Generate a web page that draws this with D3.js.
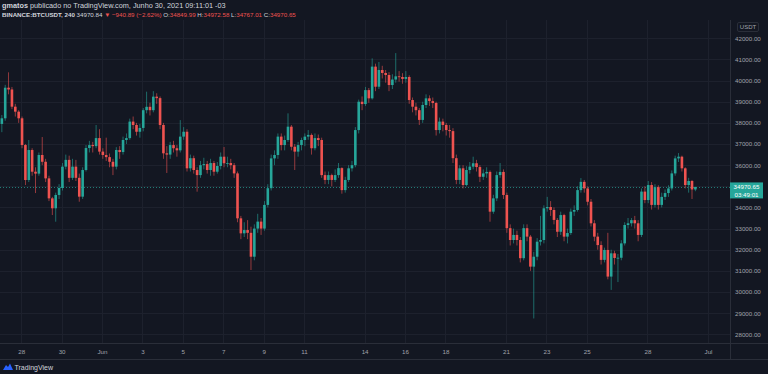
<!DOCTYPE html>
<html>
<head>
<meta charset="utf-8">
<script src="https://cdn.jsdelivr.net/npm/d3@7"></script>
<style>
  html, body { margin: 0; padding: 0; background: #131722; }
  svg { display: block; font-family: "Liberation Sans", Arial, sans-serif; }
</style>
</head>
<body>
<svg id="chart" width="768" height="374"></svg>
<script>
// BINANCE:BTCUSDT 4h candles, local time (-03), first bar May 27 01:00
var firstTime = Date.UTC(2021, 4, 27, 1);
var firstOpen = 37950;

var closes = [
  38216,39663,39580,38765,38530,38216,36952,35297,36716,35690,
  35600,36480,36160,35375,34430,33960,34590,34920,35930,36250,
  35400,35930,35400,34510,35770,36810,36950,36900,37280,36640,
  36480,36380,36160,35930,36716,36620,37190,37280,38060,37900,
  37580,37760,38600,38760,38600,39240,39170,37900,36560,36500,
  36950,36800,36700,37350,37580,35850,36330,35770,35530,36000,
  36050,35770,36100,35690,35960,36400,36090,36100,36000,35610,
  33485,32775,32930,32800,31670,33000,33330,33000,34120,34910,
  36320,36480,37350,36950,37190,37820,36870,36640,36950,37190,
  37350,37430,36800,37280,37190,35530,35300,35530,35300,35530,
  35860,34820,35300,35850,36000,37660,39000,38890,39550,39160,
  40660,39710,40500,40360,40265,39790,40050,40200,40170,40080,
  40170,39080,38765,38600,38140,38845,39160,39030,38940,37660,
  38060,37900,37660,37610,36330,35300,35850,35060,35770,35930,
  36090,35910,35450,35610,35680,33800,34430,35530,35680,34590,
  33020,32460,32700,32460,31600,33020,32620,31200,31670,32380,
  32460,33960,34020,33880,33410,32850,33640,32620,32790,33800,
  33880,34820,35210,34900,34270,33250,32620,32220,31520,31990,
  30730,31830,31610,31620,32300,33170,33250,33400,33250,32700,
  34750,34350,35060,34120,34960,34120,34500,34680,34900,35610,
  36320,36400,35850,35060,35250,34849.99,34970.65
];

var highs = [
  38370,39800,40390,39700,38900,38600,38300,37000,37190,36800,
  35900,36600,37330,36300,35500,34500,34700,35100,36100,36500,
  36450,36300,36250,35600,35900,36950,37150,37100,37900,37700,
  36800,37300,36550,36300,36850,36900,37350,37500,38200,38300,
  38000,37950,38700,39475,38950,39500,39400,39250,38000,36900,
  37100,37150,36950,38130,37800,37700,36500,36450,35900,36200,
  36350,36200,36300,36200,36150,36600,36860,36400,36300,36100,
  35700,33600,33300,33400,33090,33200,33700,33500,34300,35100,
  36500,36700,37500,37500,37400,38450,37900,37000,37100,37300,
  37500,37660,37500,37500,37450,37300,35700,35700,35600,35800,
  36100,35900,35450,36000,36200,37800,39100,39250,39700,39650,
  41050,40800,40880,40700,40500,40400,40300,41300,40450,40350,
  40450,40250,39200,38950,38700,39000,39350,39300,39200,39000,
  38250,38200,38000,37900,37750,36500,36000,36000,35950,36150,
  36400,36250,36000,35800,35900,35750,34600,35700,36100,35800,
  34700,33200,33000,32900,32600,33200,33200,32700,31900,32550,
  33600,34100,34500,34300,34000,33500,33800,33700,33000,33950,
  34100,35000,35390,35300,35000,34400,33400,32800,32400,32100,
  32800,32000,31950,31800,32450,33300,33500,33500,33600,33400,
  34900,35000,35250,35200,35100,35050,34700,34850,35050,35750,
  36450,36570,36450,35900,35400,35300,34972.58
];

var lows = [
  37560,38100,39350,38650,38300,38000,36800,35060,35200,35500,
  34680,35500,36000,35200,34300,33640,33325,34400,34800,35800,
  35200,35300,35250,34270,34400,35700,36600,36600,36800,36500,
  36300,36200,35900,35530,35800,36300,36500,37000,37200,37700,
  37400,37300,37600,38450,38350,38500,38900,37700,36300,35630,
  36300,36600,36400,36600,37200,35700,35700,35600,34745,35400,
  35800,35600,35500,35500,35600,35800,35900,35900,35800,35400,
  33300,32500,32600,32500,31040,31500,32800,32700,32900,34000,
  34800,36000,36300,36700,36700,37100,36700,35770,36400,36700,
  36900,37200,36500,36700,36900,35400,35100,35100,35000,35200,
  35400,34650,34700,35200,35700,35900,37500,38600,38800,38950,
  39100,39500,39600,40100,39900,39500,39600,39900,39950,39850,
  39900,38900,38500,38350,37900,38000,38700,38800,38700,37400,
  37500,37600,37400,37300,36100,35100,35100,34900,35000,35600,
  35800,35700,35200,35300,35400,33325,33700,34300,35400,34400,
  32800,32200,32300,32200,31400,31500,32400,31000,28750,31500,
  32200,32300,33800,33600,33200,32600,32700,32400,32300,32700,
  33600,33800,34700,34700,34100,33100,32400,32000,31300,31400,
  30600,30100,31300,30470,31500,32200,33000,33100,33000,32400,
  32600,34200,34200,33900,34000,33900,34000,34350,34500,34800,
  35500,36150,35700,34900,34700,34400,34767.01
];

var priceTicks = [28000,29000,30000,31000,32000,33000,34000,35000,36000,37000,38000,39000,40000,41000,42000];
var dateTicks = ["2021-05-28","2021-05-30","2021-06-01","2021-06-03","2021-06-05","2021-06-07","2021-06-09","2021-06-11",
                 "2021-06-14","2021-06-16","2021-06-18","2021-06-21","2021-06-23","2021-06-25","2021-06-28","2021-07-01"];
var dateLabels = ["28","30","Jun","3","5","7","9","11","14","16","18","21","23","25","28","Jul"];

var lastPrice = 34970.65;
var countdown = "03:49:01";

var W = 768, H = 374;
var plotR = 730, plotT = 20, plotB = 343;
var upColor = "#26a69a", downColor = "#ef5350";
var gridColor = "#1d212d", axisText = "#a0a3ab";

var svg = d3.select("#chart");
svg.append("rect").attr("width", W).attr("height", H).attr("fill", "#131722");

var x = d3.scaleUtc()
  .domain([new Date(Date.UTC(2021, 5, 1)), new Date(Date.UTC(2021, 6, 1))])
  .range([102, 708]);
var y = d3.scaleLinear().domain([28000, 42000]).range([334.3, 38.3]);

var parse = d3.utcParse("%Y-%m-%d");
var tickDates = dateTicks.map(parse);

var candles = closes.map(function (c, i) {
  var o = i ? closes[i - 1] : firstOpen;
  return {
    t: new Date(firstTime + i * 4 * 3600 * 1000),
    o: o, c: c,
    h: Math.max(highs[i], o, c),
    l: Math.min(lows[i], o, c)
  };
});

// grid
var grid = svg.append("g");
grid.selectAll(".hg").data(priceTicks).enter().append("line")
  .attr("x1", 0).attr("x2", plotR)
  .attr("y1", function (d) { return Math.round(y(d)) + 0.5; })
  .attr("y2", function (d) { return Math.round(y(d)) + 0.5; })
  .attr("stroke", gridColor);
grid.selectAll(".vg").data(tickDates).enter().append("line")
  .attr("x1", function (d) { return Math.round(x(d)) + 0.5; })
  .attr("x2", function (d) { return Math.round(x(d)) + 0.5; })
  .attr("y1", plotT).attr("y2", plotB)
  .attr("stroke", gridColor);

// last price line
svg.append("line")
  .attr("x1", 0).attr("x2", plotR)
  .attr("y1", Math.round(y(lastPrice)) + 0.5).attr("y2", Math.round(y(lastPrice)) + 0.5)
  .attr("stroke", upColor).attr("stroke-dasharray", "1,2").attr("opacity", 0.7);

// candles
var bw = 2.6;
var g = svg.append("g");
var bar = g.selectAll(".candle").data(candles).enter().append("g")
  .attr("class", "candle");
bar.append("line")
  .attr("x1", function (d) { return x(d.t); })
  .attr("x2", function (d) { return x(d.t); })
  .attr("y1", function (d) { return y(d.h); })
  .attr("y2", function (d) { return y(d.l); })
  .attr("stroke", function (d) { return d.c >= d.o ? upColor : downColor; })
  .attr("stroke-width", 0.8)
  .attr("opacity", 0.75);
bar.append("rect")
  .attr("x", function (d) { return x(d.t) - bw / 2; })
  .attr("width", bw)
  .attr("y", function (d) { return y(Math.max(d.o, d.c)); })
  .attr("height", function (d) { return Math.max(0.8, Math.abs(y(d.o) - y(d.c))); })
  .attr("fill", function (d) { return d.c >= d.o ? upColor : downColor; });

// axis borders
svg.append("line").attr("x1", plotR + 0.5).attr("x2", plotR + 0.5).attr("y1", plotT).attr("y2", 359)
  .attr("stroke", "#2a2e39");
svg.append("line").attr("x1", 0).attr("x2", W).attr("y1", plotB + 0.5).attr("y2", plotB + 0.5)
  .attr("stroke", "#2a2e39");
svg.append("line").attr("x1", 0).attr("x2", W).attr("y1", 359.5).attr("y2", 359.5)
  .attr("stroke", "#2a2e39");

// price axis
var yAxis = svg.append("g")
  .attr("transform", "translate(" + plotR + ",0)")
  .call(d3.axisRight(y).tickValues(priceTicks).tickFormat(d3.format(".2f")).tickSize(0).tickPadding(5));
yAxis.select(".domain").remove();
yAxis.selectAll("text").attr("fill", axisText).attr("font-size", "6.2px");

// time axis
var xAxis = svg.append("g")
  .attr("transform", "translate(0," + plotB + ")")
  .call(d3.axisBottom(x).tickValues(tickDates)
    .tickFormat(function (d, i) { return dateLabels[i]; }).tickSize(0).tickPadding(6.5));
xAxis.select(".domain").remove();
xAxis.selectAll("text").attr("fill", axisText).attr("font-size", "6.2px");

// USDT label
svg.append("rect").attr("x", 737.5).attr("y", 22.5).attr("width", 21).attr("height", 9).attr("rx", 1.5)
  .attr("fill", "none").attr("stroke", "#2a2e39");
svg.append("text").attr("x", 748).attr("y", 29.3).attr("text-anchor", "middle")
  .attr("fill", axisText).attr("font-size", "6px").text("USDT");

// last price tag
var py = y(lastPrice);
svg.append("rect").attr("x", 730).attr("y", py - 4.5).attr("width", 33).attr("height", 16)
  .attr("fill", upColor);
svg.append("text").attr("x", 746.5).attr("y", py + 2.2).attr("text-anchor", "middle")
  .attr("fill", "#ffffff").attr("font-size", "6.2px").text(d3.format(".2f")(lastPrice));
svg.append("text").attr("x", 746.5).attr("y", py + 9.6).attr("text-anchor", "middle")
  .attr("fill", "#ffffff").attr("font-size", "6.2px").text(countdown);

// header
var h1 = svg.append("text").attr("x", 2).attr("y", 8).attr("font-size", "7.3px").attr("fill", "#d1d4dc");
h1.append("tspan").attr("font-weight", "bold").text("gmatos");
h1.append("tspan").text(" publicado no TradingView.com, Junho 30, 2021 09:11:01 -03");

var h2 = svg.append("text").attr("x", 2).attr("y", 17).attr("font-size", "6.2px").attr("fill", "#d1d4dc");
h2.append("tspan").attr("font-weight", "bold").text("BINANCE:BTCUSDT, 240 ");
h2.append("tspan").text("34970.84 ");
h2.append("tspan").attr("fill", downColor).text("\u25BC \u2212940.89 (\u22122.62%)");
var ohlc = [["O:", "34849.99"], ["H:", "34972.58"], ["L:", "34767.01"], ["C:", "34970.65"]];
ohlc.forEach(function (p) {
  h2.append("tspan").text(" " + p[0]);
  h2.append("tspan").attr("fill", downColor).text(p[1]);
});

// footer logo
var logo = svg.append("g").attr("transform", "translate(3,362)");
logo.append("path")
  .attr("d", "M0,8 L3,3 L5,5 L7,1.5 L10,8 Z")
  .attr("fill", "#2962ff");
svg.append("text").attr("x", 14.5).attr("y", 369.5).attr("font-size", "7px").attr("fill", "#d1d4dc")
  .text("TradingView");
</script>
</body>
</html>
